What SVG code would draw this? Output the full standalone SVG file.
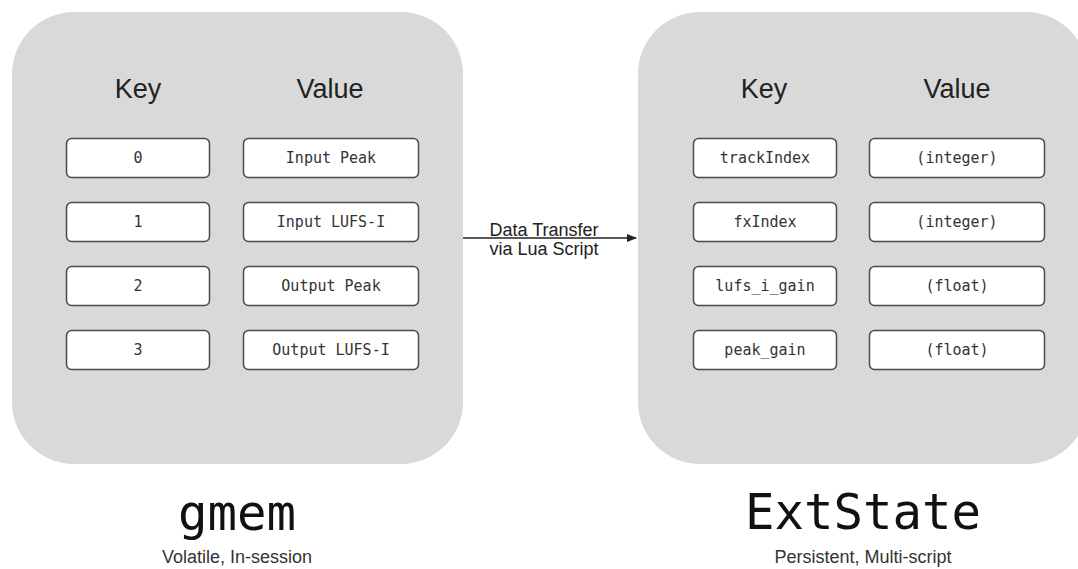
<svg xmlns="http://www.w3.org/2000/svg" width="1078" height="569" viewBox="0 0 1078 569">
  <style>
    .panel { fill: #d9d9d9; }
    .cell { fill: #ffffff; stroke: #4a4a4a; stroke-width: 1.5; }
    .head { font-family: "Liberation Sans", Arial, sans-serif; font-size: 27px; fill: #222; text-anchor: middle; }
    .mono { font-family: "DejaVu Sans Mono", "Liberation Mono", monospace; font-size: 15px; fill: #333; text-anchor: middle; dominant-baseline: central; }
    .title { font-family: "DejaVu Sans Mono", "Liberation Mono", monospace; font-size: 49px; fill: #111; text-anchor: middle; }
    .sub { font-family: "Liberation Sans", Arial, sans-serif; font-size: 18px; fill: #333; text-anchor: middle; }
    .label { font-family: "Liberation Sans", Arial, sans-serif; font-size: 18px; fill: #222; text-anchor: middle; }
    .link { stroke: #222; stroke-width: 1.3; fill: none; }
  </style>
  <defs>
    <marker id="arrow" markerWidth="10" markerHeight="8" refX="9" refY="4" orient="auto" markerUnits="userSpaceOnUse">
      <path d="M0,0 L10,4 L0,8 Z" fill="#222"/>
    </marker>
  </defs>

  <rect width="1078" height="569" fill="#ffffff"/>

  <!-- gmem store -->
  <g id="gmem">
    <rect class="panel" x="12" y="12" width="451" height="452" rx="62"/>
    <text class="head" x="138" y="98">Key</text>
    <text class="head" x="330" y="98">Value</text>
    <g id="gmem-row0">
      <rect class="cell" x="66.5" y="138.5" width="143" height="39" rx="5"/>
      <text class="mono" x="138" y="158">0</text>
      <rect class="cell" x="243.5" y="138.5" width="175" height="39" rx="5"/>
      <text class="mono" x="331" y="158">Input Peak</text>
    </g>
    <g id="gmem-row1">
      <rect class="cell" x="66.5" y="202.5" width="143" height="39" rx="5"/>
      <text class="mono" x="138" y="222">1</text>
      <rect class="cell" x="243.5" y="202.5" width="175" height="39" rx="5"/>
      <text class="mono" x="331" y="222">Input LUFS-I</text>
    </g>
    <g id="gmem-row2">
      <rect class="cell" x="66.5" y="266.5" width="143" height="39" rx="5"/>
      <text class="mono" x="138" y="286">2</text>
      <rect class="cell" x="243.5" y="266.5" width="175" height="39" rx="5"/>
      <text class="mono" x="331" y="286">Output Peak</text>
    </g>
    <g id="gmem-row3">
      <rect class="cell" x="66.5" y="330.5" width="143" height="39" rx="5"/>
      <text class="mono" x="138" y="350">3</text>
      <rect class="cell" x="243.5" y="330.5" width="175" height="39" rx="5"/>
      <text class="mono" x="331" y="350">Output LUFS-I</text>
    </g>
    <text class="title" x="237" y="530">gmem</text>
    <text class="sub" x="237" y="563">Volatile, In-session</text>
  </g>

  <!-- ExtState store -->
  <g id="extstate">
    <rect class="panel" x="638" y="12" width="450" height="452" rx="62"/>
    <text class="head" x="764" y="98">Key</text>
    <text class="head" x="957" y="98">Value</text>
    <g id="ext-row0">
      <rect class="cell" x="693.5" y="138.5" width="143" height="39" rx="5"/>
      <text class="mono" x="765" y="158">trackIndex</text>
      <rect class="cell" x="869.5" y="138.5" width="175" height="39" rx="5"/>
      <text class="mono" x="957" y="158">(integer)</text>
    </g>
    <g id="ext-row1">
      <rect class="cell" x="693.5" y="202.5" width="143" height="39" rx="5"/>
      <text class="mono" x="765" y="222">fxIndex</text>
      <rect class="cell" x="869.5" y="202.5" width="175" height="39" rx="5"/>
      <text class="mono" x="957" y="222">(integer)</text>
    </g>
    <g id="ext-row2">
      <rect class="cell" x="693.5" y="266.5" width="143" height="39" rx="5"/>
      <text class="mono" x="765" y="286">lufs_i_gain</text>
      <rect class="cell" x="869.5" y="266.5" width="175" height="39" rx="5"/>
      <text class="mono" x="957" y="286">(float)</text>
    </g>
    <g id="ext-row3">
      <rect class="cell" x="693.5" y="330.5" width="143" height="39" rx="5"/>
      <text class="mono" x="765" y="350">peak_gain</text>
      <rect class="cell" x="869.5" y="330.5" width="175" height="39" rx="5"/>
      <text class="mono" x="957" y="350">(float)</text>
    </g>
    <text class="title" x="863" y="529">ExtState</text>
    <text class="sub" x="863" y="563">Persistent, Multi-script</text>
  </g>

  <!-- transfer connector -->
  <g id="connectors">
    <line class="link" x1="463" y1="238" x2="636" y2="238" marker-end="url(#arrow)"/>
    <text class="label" x="544" y="236">Data Transfer</text>
    <text class="label" x="544" y="255">via Lua Script</text>
  </g>
</svg>
